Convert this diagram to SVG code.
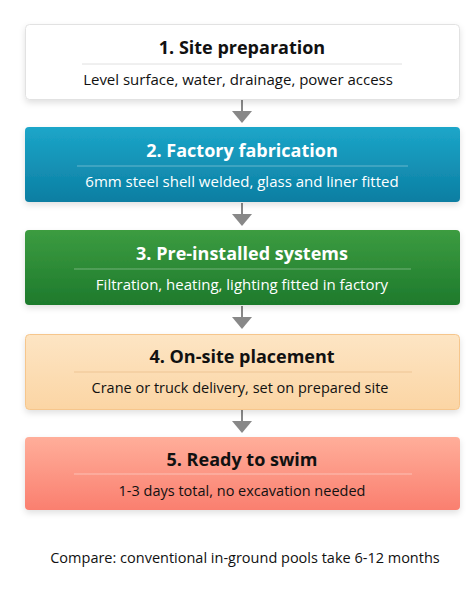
<svg xmlns="http://www.w3.org/2000/svg" width="475" height="607" viewBox="0 0 475 607">
<style>
.title{font-family:"Open Sans","Liberation Sans",sans-serif;font-weight:bold;font-size:18px;text-anchor:middle}
.sub{font-family:"Open Sans","Liberation Sans",sans-serif;font-size:15px;text-anchor:middle}
.sm{font-size:14.5px}
.foot{font-family:"Open Sans","Liberation Sans",sans-serif;font-size:14.5px;text-anchor:middle;fill:#111}
.dark{fill:#111}
.light{fill:#ffffff}
.conn line{stroke:#888;stroke-width:2}
.conn polygon{fill:#888}
</style>
<defs>
<filter id="sh" x="-10%" y="-20%" width="120%" height="150%">
<feDropShadow dx="0" dy="3" stdDeviation="3" flood-color="#000" flood-opacity="0.12"/>
</filter>
<linearGradient id="g2" x1="0" y1="0" x2="0" y2="1"><stop offset="0" stop-color="#1ca6c9"/><stop offset="1" stop-color="#0c7ea2"/></linearGradient>
<linearGradient id="g3" x1="0" y1="0" x2="0" y2="1"><stop offset="0" stop-color="#3c9c41"/><stop offset="1" stop-color="#1e7a2c"/></linearGradient>
<linearGradient id="g4" x1="0" y1="0" x2="0" y2="1"><stop offset="0" stop-color="#fde5c4"/><stop offset="1" stop-color="#fbd5a4"/></linearGradient>
<linearGradient id="g5" x1="0" y1="0" x2="0" y2="1"><stop offset="0" stop-color="#ffae9a"/><stop offset="1" stop-color="#fa7f6f"/></linearGradient>
</defs>
<rect width="475" height="607" fill="#fff"/>
<g class="conn" id="connectors">
<line x1="242" y1="100" x2="242" y2="112"/><polygon points="232,111 252,111 242,123"/>
<line x1="242" y1="203" x2="242" y2="215"/><polygon points="232,214 252,214 242,226"/>
<line x1="242" y1="306" x2="242" y2="318"/><polygon points="232,317 252,317 242,329"/>
<line x1="242" y1="410" x2="242" y2="422"/><polygon points="232,421 252,421 242,433"/>
</g>
<g id="n1">
<rect x="25.5" y="24.5" width="434" height="75" rx="4" fill="#fff" stroke="#e2e2e2" filter="url(#sh)"/>
<text class="title dark" x="242" y="54">1. Site preparation</text>
<line x1="82" y1="64" x2="402" y2="64" stroke="#e0e0e0"/>
<text class="sub dark" x="238" y="85">Level surface, water, drainage, power access</text>
</g>
<g id="n2">
<rect x="25" y="127" width="435" height="75" rx="4" fill="url(#g2)" filter="url(#sh)"/>
<text class="title light" x="242" y="157">2. Factory fabrication</text>
<line x1="77" y1="166" x2="408" y2="166" stroke="#ffffff" stroke-opacity="0.35"/>
<text class="sub light" x="242" y="187">6mm steel shell welded, glass and liner fitted</text>
</g>
<g id="n3">
<rect x="25" y="230" width="435" height="75" rx="4" fill="url(#g3)" filter="url(#sh)"/>
<text class="title light" x="242" y="260">3. Pre-installed systems</text>
<line x1="74" y1="269" x2="411" y2="269" stroke="#ffffff" stroke-opacity="0.35"/>
<text class="sub light" x="242" y="290">Filtration, heating, lighting fitted in factory</text>
</g>
<g id="n4">
<rect x="25.5" y="334.5" width="434" height="75" rx="4" fill="url(#g4)" stroke="#f6c68c" filter="url(#sh)"/>
<text class="title dark" x="242" y="363">4. On-site placement</text>
<line x1="74" y1="372" x2="412" y2="372" stroke="#eec594"/>
<text class="sub sm dark" x="240" y="393">Crane or truck delivery, set on prepared site</text>
</g>
<g id="n5">
<rect x="25" y="437" width="435" height="73" rx="4" fill="url(#g5)" filter="url(#sh)"/>
<text class="title dark" x="242" y="466">5. Ready to swim</text>
<line x1="74" y1="474" x2="412" y2="474" stroke="#ffffff" stroke-opacity="0.4"/>
<text class="sub sm dark" x="242" y="496">1-3 days total, no excavation needed</text>
</g>
<text class="foot" x="245" y="563">Compare: conventional in-ground pools take 6-12 months</text>
</svg>
